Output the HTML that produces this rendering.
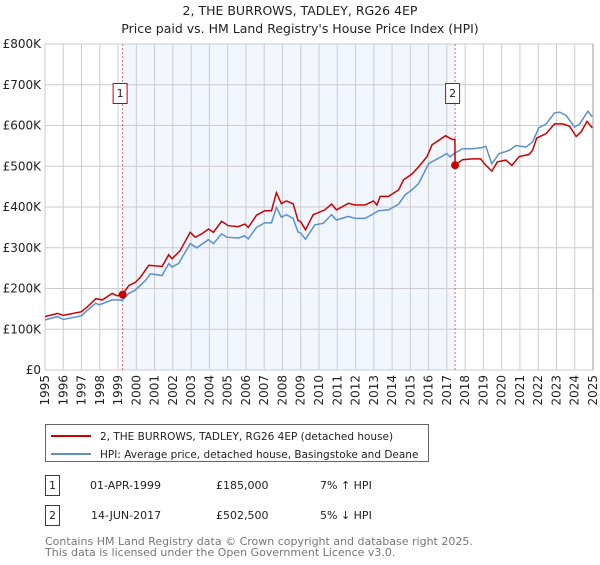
<!DOCTYPE html>
<html><head><meta charset="utf-8"><style>
body{margin:0;background:#fff;font-family:"Liberation Sans","DejaVu Sans",sans-serif;}
svg text{font-family:"DejaVu Sans","Liberation Sans",sans-serif;}
</style></head><body>
<svg id="c" width="600" height="560" xmlns="http://www.w3.org/2000/svg">
<text x="300" y="15" text-anchor="middle" font-size="12.5" fill="#222">2, THE BURROWS, TADLEY, RG26 4EP</text>
<text x="300" y="33" text-anchor="middle" font-size="12.5" fill="#222">Price paid vs. HM Land Registry's House Price Index (HPI)</text>
<g id="plot"></g>
<g>
<rect x="45.5" y="424.5" width="383" height="37" fill="#fff" stroke="#666"/>
<line x1="51" y1="436" x2="91" y2="436" stroke="#cc0000" stroke-width="2"/>
<text x="100" y="440" font-size="10.5" fill="#222">2, THE BURROWS, TADLEY, RG26 4EP (detached house)</text>
<line x1="51" y1="454" x2="91" y2="454" stroke="#5b8fd0" stroke-width="2"/>
<text x="100" y="458" font-size="10.5" fill="#222">HPI: Average price, detached house, Basingstoke and Deane</text>
</g>
<g font-size="11" fill="#222">
<rect x="45.5" y="475.5" width="14" height="20" fill="#fff" stroke="#cc0000"/>
<text x="52.5" y="489" text-anchor="middle">1</text>
<text x="90" y="489">01-APR-1999</text>
<text x="216" y="489">£185,000</text>
<text x="320" y="489">7% ↑ HPI</text>
<rect x="45.5" y="505.5" width="14" height="20" fill="#fff" stroke="#cc0000"/>
<text x="52.5" y="519" text-anchor="middle">2</text>
<text x="91" y="519">14-JUN-2017</text>
<text x="216" y="519">£502,500</text>
<text x="320" y="519">5% ↓ HPI</text>
</g>
<text x="45" y="545" font-size="11" fill="#777">Contains HM Land Registry data © Crown copyright and database right 2025.</text>
<text x="45" y="556" font-size="11" fill="#777">This data is licensed under the Open Government Licence v3.0.</text>
</svg>
<script>
const yTicks=[0,100000,200000,300000,400000,500000,600000,700000,800000];
const yTickLabels=["£0","£100K","£200K","£300K","£400K","£500K","£600K","£700K","£800K"];
const xTicks=[1995,1996,1997,1998,1999,2000,2001,2002,2003,2004,2005,2006,2007,2008,2009,2010,2011,2012,2013,2014,2015,2016,2017,2018,2019,2020,2021,2022,2023,2024,2025];
const hpiYears=[1995,1995.69,1996,1997,1997.23,1997.78,1997.96,1998.68,1998.96,1999.23,1999.59,1999.95,2000.5,2000.77,2001.41,2001.77,2001.95,2002.31,2002.95,2003.31,2003.95,2004.22,2004.67,2004.95,2005.58,2005.94,2006.13,2006.58,2007.03,2007.4,2007.67,2007.94,2008.21,2008.58,2008.85,2009,2009.26,2009.77,2010.23,2010.69,2010.96,2011.61,2011.97,2012.52,2012.98,2013.26,2013.81,2014.36,2014.72,2015.09,2015.46,2016.01,2016.56,2016.99,2017.17,2017.4,2017.85,2018.39,2018.94,2019.13,2019.46,2019.86,2020.41,2020.78,2021.33,2021.7,2022.03,2022.43,2022.89,2023.17,2023.53,2023.99,2024.27,2024.72,2024.96];
const hpiValues=[123,131,124,133,143,164,160,172,172,171,188,196,220,236,232,261,253,261,310,300,320,310,334,326,324,329,322,350,361,361,399,375,381,372,339,336,321,356,360,381,368,377,372,372,383,391,393,407,430,442,458,507,520,531,523,531,543,543,546,549,506,531,539,551,547,560,594,604,631,633,625,596,604,635,621];
const priceYears=[1995,1995.69,1996,1997,1997.32,1997.78,1998.14,1998.68,1998.96,1999.23,1999.59,1999.95,2000.23,2000.68,2001.41,2001.77,2001.95,2002.4,2002.95,2003.22,2003.58,2003.95,2004.22,2004.67,2005.04,2005.58,2005.94,2006.13,2006.58,2007.03,2007.4,2007.67,2007.94,2008.21,2008.58,2008.85,2009,2009.26,2009.68,2010.32,2010.69,2010.96,2011.61,2011.97,2012.52,2012.98,2013.17,2013.35,2013.81,2014.36,2014.63,2015.09,2015.46,2015.92,2016.19,2016.93,2017.11,2017.29,2017.44,2017.45,2017.85,2018.39,2018.85,2019.04,2019.46,2019.77,2020.23,2020.56,2020.96,2021.51,2021.7,2021.92,2022.43,2022.89,2023.35,2023.72,2024.08,2024.36,2024.67,2024.96];
const priceValues=[131,139,134,143,155,175,172,188,182,185,207,215,228,257,254,283,273,293,338,326,334,346,338,365,354,352,358,350,380,391,391,435,408,415,408,367,364,344,381,393,407,393,409,405,405,415,405,426,426,442,467,481,499,524,553,575,570,566,566,502.5,516,518,518,507,488,511,515,502,524,529,540,569,580,604,604,598,573,585,610,594];
const saleYears=[1999.25,2017.45];
const salePrices=[185000,502500];
const saleLabels=["1","2"];

const L=45,R=593,T=44,B=370,Y0=1995,Y1=2025,VMAX=800000;
const xs=y=>L+(y-Y0)/(Y1-Y0)*(R-L);
const ys=v=>B-v/VMAX*(B-T);
const NS="http://www.w3.org/2000/svg";
const g=document.getElementById('plot');
function mk(t,a){const e=document.createElementNS(NS,t);for(const k in a)e.setAttribute(k,a[k]);g.appendChild(e);return e;}

const shade=mk('rect',{x:xs(saleYears[0]),y:T,width:xs(saleYears[1])-xs(saleYears[0]),height:B-T,fill:'#f2f6fe'});



xTicks.forEach(t=>{
 const l=mk('line',{x1:xs(t),x2:xs(t),y1:T,y2:B,stroke:'#cccccc','stroke-width':1});
 
 
 const x=xs(t)+4,y=B+5;
 const tx=mk('text',{x:x,y:y,'font-size':12,fill:'#222','text-anchor':'end',transform:`rotate(-90 ${x} ${y})`});
 tx.textContent=String(t);
 
 
});
yTicks.forEach((v,i)=>{
 const l=mk('line',{x1:L,x2:R,y1:ys(v),y2:ys(v),stroke:'#cccccc','stroke-width':1});
 
 
 const tx=mk('text',{x:L-4,y:ys(v)+4,'font-size':12,fill:'#222','text-anchor':'end'});
 tx.textContent=yTickLabels[i];
 
 
});
const rl=mk('line',{x1:R,x2:R,y1:T,y2:B,stroke:'#999','stroke-width':1});



saleYears.forEach((s,i)=>{
 const l=mk('line',{x1:xs(s),x2:xs(s),y1:T,y2:B,stroke:'#e06666','stroke-width':1,'stroke-dasharray':'2,2'});
 
 
 const b=mk('rect',{x:xs(s)-9.5,y:83.5,width:14,height:20,fill:'#fff',stroke:'#cc0000'});
 
 
 const t=mk('text',{x:xs(s)-2.5,y:97,'font-size':11,fill:'#222','text-anchor':'middle'});
 t.textContent=saleLabels[i];
 
 
});

const hp=mk('path',{d:hpiYears.map((y,i)=>(i?'L':'M')+xs(y).toFixed(1)+','+ys(hpiValues[i]*1000).toFixed(1)).join(''),fill:'none',stroke:'#5b8fd0','stroke-width':1.5});


const pp=mk('path',{d:priceYears.map((y,i)=>(i?'L':'M')+xs(y).toFixed(1)+','+ys(priceValues[i]*1000).toFixed(1)).join(''),fill:'none',stroke:'#cc0000','stroke-width':1.5});


saleYears.forEach((s,i)=>{
 const c=mk('circle',{cx:xs(s),cy:ys(salePrices[i]),r:4,fill:'#cc0000'});
 
 
});
</script>
</body></html>
